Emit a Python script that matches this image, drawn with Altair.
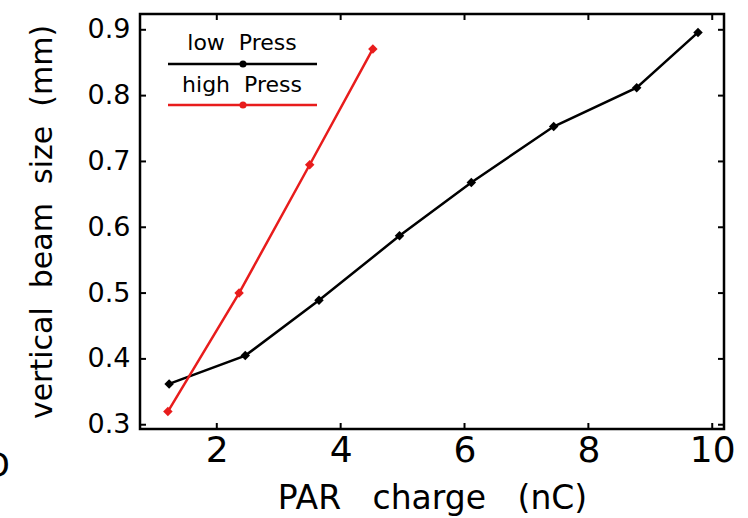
import altair as alt
import pandas as pd

# PAR charge (nC) vs vertical beam size (mm), two pressure settings
low_charge = [1.23, 2.46, 3.65, 4.95, 6.11, 7.44, 8.78, 9.77]
low_size = [0.362, 0.405, 0.489, 0.587, 0.668, 0.753, 0.812, 0.896]
high_charge = [1.21, 2.36, 3.50, 4.52]
high_size = [0.320, 0.500, 0.695, 0.871]

series_names = ["low Press", "high Press"]
series_colors = ["#000000", "#e81c1c"]

x_ticks = [2, 4, 6, 8, 10]
y_ticks = [0.3, 0.4, 0.5, 0.6, 0.7, 0.8, 0.9]

W, H = 584, 415
FONT = "DejaVu Sans"
NB2 = "\u00a0\u00a0"   # wide word gap
NB3 = "\u00a0\u00a0\u00a0"

df = pd.concat([
    pd.DataFrame({"charge": low_charge, "size": low_size, "series": series_names[0]}),
    pd.DataFrame({"charge": high_charge, "size": high_size, "series": series_names[1]}),
], ignore_index=True)

x_scale = alt.Scale(domain=[0.76, 10.19], nice=False, zero=False)
y_scale = alt.Scale(domain=[0.2935, 0.924], nice=False, zero=False)
color_scale = alt.Scale(domain=series_names, range=series_colors)

x_axis = alt.Axis(values=x_ticks, ticks=False, domain=False, grid=False,
                  labelFont=FONT, labelFontSize=36, labelColor="black",
                  labelPadding=4, labelFlush=False,
                  title=NB3.join(["PAR", "charge", "(nC)"]), titleFont=FONT,
                  titleFontSize=33, titleFontWeight="normal", titleColor="black",
                  titlePadding=14)
y_axis = alt.Axis(values=y_ticks, ticks=False, domain=False, grid=False,
                  labelFont=FONT, labelFontSize=27, labelColor="black",
                  labelPadding=10, labelFlush=False, format=".1f",
                  title=NB2.join(["vertical", "beam", "size", "(mm)"]), titleFont=FONT,
                  titleFontSize=30, titleFontWeight="normal", titleColor="black",
                  titlePadding=30)

base = alt.Chart(df).encode(
    x=alt.X("charge:Q", scale=x_scale, axis=x_axis),
    y=alt.Y("size:Q", scale=y_scale, axis=y_axis),
    color=alt.Color("series:N", scale=color_scale, legend=None),
)
lines = base.mark_line(strokeWidth=2.5)
points = base.mark_point(shape="diamond", filled=True, size=90, opacity=1)

# inward tick marks on all four sides of the frame
xt = pd.DataFrame({"charge": x_ticks})
yt = pd.DataFrame({"size": y_ticks})
tx = alt.X("charge:Q", scale=x_scale, axis=x_axis)
ty = alt.Y("size:Q", scale=y_scale, axis=y_axis)
tick_style = dict(color="black", strokeWidth=2)
ticks_bottom = alt.Chart(xt).mark_rule(**tick_style).encode(x=tx, y=alt.value(H), y2=alt.value(H - 6))
ticks_top = alt.Chart(xt).mark_rule(**tick_style).encode(x=tx, y=alt.value(0), y2=alt.value(6))
ticks_left = alt.Chart(yt).mark_rule(**tick_style).encode(y=ty, x=alt.value(0), x2=alt.value(6))
ticks_right = alt.Chart(yt).mark_rule(**tick_style).encode(y=ty, x=alt.value(W), x2=alt.value(W - 6))

# key in the upper-left corner: label above a line with a marker
one = alt.Data(values=[{}])
key_layers = []
for i, (name, col) in enumerate(zip(series_names, series_colors)):
    label = name.replace(" ", NB2)
    ty_text = 36 + i * 41.5
    ly = 50 + i * 41
    key_layers.append(alt.Chart(one).mark_text(
        text=label, font=FONT, fontSize=22, color="black", align="center", baseline="alphabetic"
    ).encode(x=alt.value(102), y=alt.value(ty_text)))
    key_layers.append(alt.Chart(one).mark_rule(color=col, strokeWidth=2.5).encode(
        x=alt.value(28), x2=alt.value(177), y=alt.value(ly)))
    key_layers.append(alt.Chart(one).mark_point(
        shape="circle", filled=True, size=50, color=col, opacity=1
    ).encode(x=alt.value(103), y=alt.value(ly)))

# panel letter at the far left edge
panel = alt.Chart(one).mark_text(
    text="D", font=FONT, fontSize=34, color="black", align="right", baseline="alphabetic"
).encode(x=alt.value(-130), y=alt.value(463))

chart = alt.layer(
    lines, points, ticks_bottom, ticks_top, ticks_left, ticks_right, *key_layers, panel
).properties(
    width=W, height=H,
    background="white",
    autosize=alt.AutoSizeParams(type="none"),
    padding={"left": 140, "top": 14, "right": 24, "bottom": 89},
).configure_view(
    stroke="black", strokeWidth=2.5
)

chart.save("out.html", embed_options={"renderer": "svg", "actions": False})
